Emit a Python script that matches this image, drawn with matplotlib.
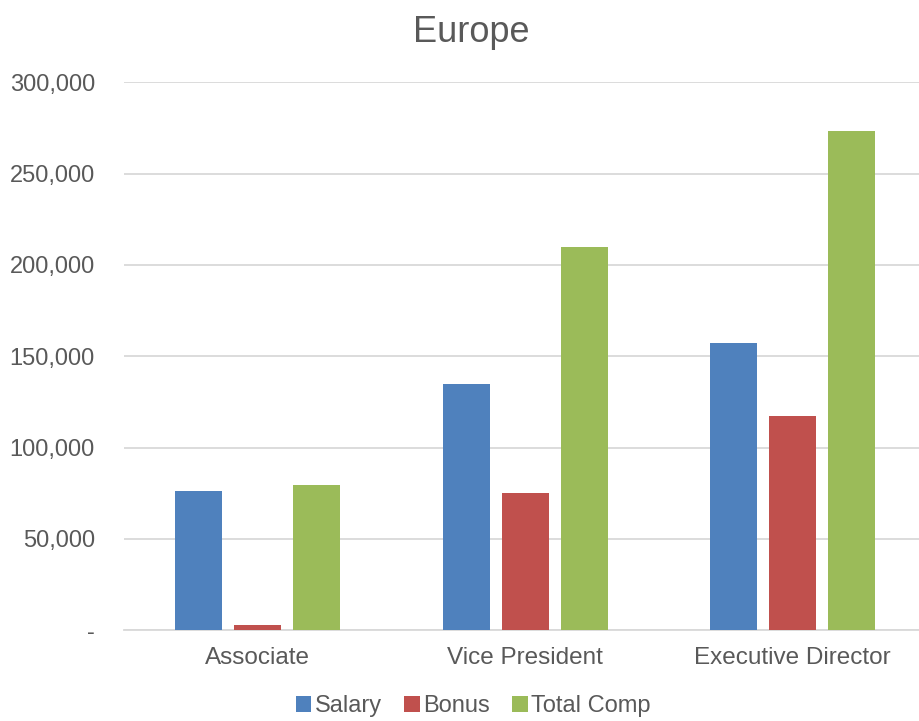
import numpy as np
import matplotlib.pyplot as plt
from matplotlib.ticker import FuncFormatter

# donnees
categories = ['Associate', 'Vice President', 'Executive Director']
salary = [76000, 135000, 157000]
bonus = [2800, 75000, 117400]
total_comp = [79200, 209500, 273300]
series_names = ['Salary', 'Bonus', 'Total Comp']
colors = ['#4F81BD', '#C0504D', '#9BBB59']

plt.rcParams['font.family'] = ['Liberation Sans', 'DejaVu Sans']
txt = '#595959'

fig = plt.figure(figsize=(9.19, 7.21), dpi=100)
ax = fig.add_axes([0.135, 0.126, 0.873, 0.76])

x = np.arange(len(categories))
w = 0.176
step = 0.22
for i, (vals, name, c) in enumerate(zip([salary, bonus, total_comp], series_names, colors)):
    ax.bar(x + (i - 1) * step, vals, width=w, color=c, label=name, zorder=3)

ax.set_ylim(0, 300000)
ax.set_xlim(-0.5, 2.5)
ax.set_yticks(np.arange(0, 300001, 50000))
ax.yaxis.set_major_formatter(FuncFormatter(lambda v, p: '-' if v == 0 else '{:,.0f}'.format(v)))
ax.set_xticks(x)
ax.set_xticklabels(categories)
ax.grid(axis='y', color='#D9D9D9', linewidth=1.3, zorder=0)
for s in ['top', 'right', 'left']:
    ax.spines[s].set_visible(False)
ax.spines['bottom'].set_color('#D9D9D9')
ax.spines['bottom'].set_linewidth(1.3)
ax.tick_params(axis='both', length=0, labelsize=17, labelcolor=txt)
ax.tick_params(axis='y', pad=21)
ax.tick_params(axis='x', labelsize=17.5, pad=12)

fig.text(0.513, 0.955, 'Europe', ha='center', va='center', fontsize=26, color=txt)

leg = fig.legend(loc='lower center', ncol=3, frameon=False, fontsize=17,
                 handlelength=0.65, handleheight=0.65, handletextpad=0.15,
                 columnspacing=0.95, bbox_to_anchor=(0.515, -0.024))
for t in leg.get_texts():
    t.set_color(txt)

plt.savefig('out.png', dpi=100)
